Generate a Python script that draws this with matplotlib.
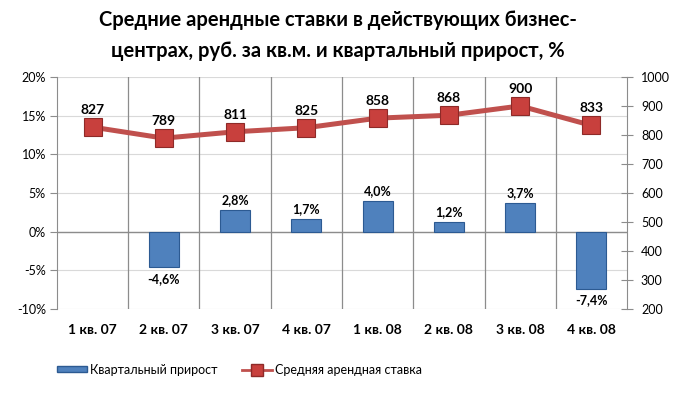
import matplotlib
matplotlib.use("Agg")
import matplotlib.pyplot as plt
import numpy as np
from matplotlib.lines import Line2D
from matplotlib.patches import Patch

plt.rcParams['font.family'] = ['Lato', 'Open Sans', 'DejaVu Sans']

categories = ["1 кв. 07", "2 кв. 07", "3 кв. 07", "4 кв. 07", "1 кв. 08", "2 кв. 08", "3 кв. 08", "4 кв. 08"]
growth = [np.nan, -4.6, 2.8, 1.7, 4.0, 1.2, 3.7, -7.4]
growth_labels = ["", "-4,6%", "2,8%", "1,7%", "4,0%", "1,2%", "3,7%", "-7,4%"]
rent = [827, 789, 811, 825, 858, 868, 900, 833]
left_ticks = [-10, -5, 0, 5, 10, 15, 20]
right_ticks = [200, 300, 400, 500, 600, 700, 800, 900, 1000]

fig = plt.figure(figsize=(6.75, 3.94), dpi=100)
ax = fig.add_axes([0.0844, 0.2157, 0.8446, 0.589])
x = np.arange(len(categories))

ax.set_xlim(-0.5, len(categories) - 0.5)
ax.set_ylim(-10, 20)
ax.set_yticks(left_ticks)
ax.set_yticklabels([f"{t}%" for t in left_ticks], fontsize=9)
for t in left_ticks:
    ax.axhline(t, color="#D9D9D9", lw=0.8, zorder=0)
for b in np.arange(0.5, len(categories) - 0.5, 1):
    ax.axvline(b, color="#8C8C8C", lw=0.9, zorder=0.5)
ax.axhline(0, color="#8C8C8C", lw=1.0, zorder=0.6)

ax.bar(x, growth, width=0.42, color="#4F81BD", edgecolor="#2C5A92", lw=0.8, zorder=2)
for xi, v, lab in zip(x, growth, growth_labels):
    if not lab:
        continue
    if v >= 0:
        ax.text(xi, v + 0.5, lab, ha="center", va="bottom", fontsize=9, fontweight="bold", zorder=5)
    else:
        ax.text(xi, v - 0.7, lab, ha="center", va="top", fontsize=9, fontweight="bold", zorder=5)

ax.set_xticks(x)
ax.set_xticklabels(categories, fontsize=10, fontweight="bold")
ax.tick_params(axis="x", length=0, pad=11)
ax.tick_params(axis="y", length=5, color="#8C8C8C", pad=3)
for s in ["top", "bottom", "right"]:
    ax.spines[s].set_visible(False)
ax.spines["left"].set_color("#8C8C8C")

ax2 = ax.twinx()
ax2.set_ylim(200, 1000)
ax2.set_yticks(right_ticks)
ax2.set_yticklabels([str(t) for t in right_ticks], fontsize=9)
ax2.tick_params(axis="y", length=8, direction="inout", color="#8C8C8C", pad=6)
for s in ["top", "bottom", "left"]:
    ax2.spines[s].set_visible(False)
ax2.spines["right"].set_color("#8C8C8C")
ax2.plot(x, rent, color="#C0504D", lw=3.6, marker="s", markersize=13,
         markerfacecolor="#C8403D", markeredgecolor="#8E2A28", markeredgewidth=0.8, zorder=3)
for xi, v in zip(x, rent):
    ax2.text(xi, v + 38, str(v), ha="center", va="bottom", fontsize=10, fontweight="bold")

fig.suptitle("Средние арендные ставки в действующих бизнес-\nцентрах, руб. за кв.м. и квартальный прирост, %",
             x=0.5, y=0.974, fontsize=14.5, fontweight="bold", linespacing=1.65)

handles = [Patch(facecolor="#4F81BD", edgecolor="#2C5A92"),
           Line2D([0], [0], color="#C0504D", lw=2, marker="s", markersize=8,
                  markerfacecolor="#C8403D", markeredgecolor="#8E2A28")]
fig.legend(handles, ["Квартальный прирост", "Средняя арендная ставка"], loc="center",
           bbox_to_anchor=(0.355, 0.062), ncol=2, frameon=False, fontsize=9,
           handlelength=2.4, handleheight=0.35, columnspacing=2.0, handletextpad=0.2)

fig.savefig("out.png", dpi=100)
